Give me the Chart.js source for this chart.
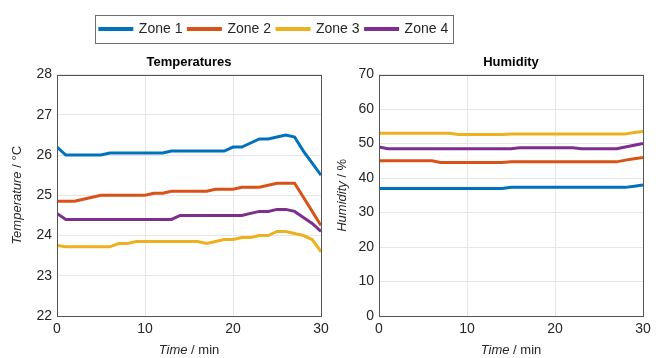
<!DOCTYPE html>
<html>
<head>
<meta charset="utf-8">
<script src="https://cdn.jsdelivr.net/npm/chart.js@4.4.0/dist/chart.umd.min.js"></script>
<style>
  body { margin: 0; background: #fff; }
  #wrap { position: relative; width: 659px; height: 358px; }
  #tempBox { position: absolute; left: 0; top: 0; width: 548px; height: 358px; }
  #humBox { position: absolute; left: 330px; top: 0; width: 329px; height: 358px; }
</style>
</head>
<body>
<div id="wrap">
  <div id="tempBox"><canvas id="temp"></canvas></div>
  <div id="humBox"><canvas id="hum"></canvas></div>
</div>
<script>
const time = [0, 1, 2, 3, 4, 5, 6, 7, 8, 9, 10, 11, 12, 13, 14, 15, 16, 17, 18, 19, 20, 21, 22, 23, 24, 25, 26, 27, 28, 29, 30];
const zones = ["Zone 1", "Zone 2", "Zone 3", "Zone 4"];
const colors = ["#0072BD", "#D95319", "#EDB120", "#7E2F8E"];

const temp_zone1 = [26.2, 26.0, 26.0, 26.0, 26.0, 26.0, 26.05, 26.05, 26.05, 26.05, 26.05, 26.05, 26.05, 26.1, 26.1, 26.1, 26.1, 26.1, 26.1, 26.1, 26.2, 26.2, 26.3, 26.4, 26.4, 26.45, 26.5, 26.45, 26.1, 25.8, 25.5];
const temp_zone2 = [24.85, 24.85, 24.85, 24.9, 24.95, 25.0, 25.0, 25.0, 25.0, 25.0, 25.0, 25.05, 25.05, 25.1, 25.1, 25.1, 25.1, 25.1, 25.15, 25.15, 25.15, 25.2, 25.2, 25.2, 25.25, 25.3, 25.3, 25.3, 24.95, 24.6, 24.25];
const temp_zone3 = [23.75, 23.72, 23.72, 23.72, 23.72, 23.72, 23.72, 23.8, 23.8, 23.85, 23.85, 23.85, 23.85, 23.85, 23.85, 23.85, 23.85, 23.8, 23.85, 23.9, 23.9, 23.95, 23.95, 24.0, 24.0, 24.1, 24.1, 24.05, 24.0, 23.9, 23.6];
const temp_zone4 = [24.55, 24.4, 24.4, 24.4, 24.4, 24.4, 24.4, 24.4, 24.4, 24.4, 24.4, 24.4, 24.4, 24.4, 24.5, 24.5, 24.5, 24.5, 24.5, 24.5, 24.5, 24.5, 24.55, 24.6, 24.6, 24.65, 24.65, 24.6, 24.45, 24.3, 24.1];

const hum_zone1 = [37, 37, 37, 37, 37, 37, 37, 37, 37, 37, 37, 37, 37, 37, 37, 37.3, 37.3, 37.3, 37.3, 37.3, 37.3, 37.3, 37.3, 37.3, 37.3, 37.3, 37.3, 37.3, 37.3, 37.6, 38];
const hum_zone2 = [45, 45, 45, 45, 45, 45, 45, 44.5, 44.5, 44.5, 44.5, 44.5, 44.5, 44.5, 44.5, 44.7, 44.7, 44.7, 44.7, 44.7, 44.7, 44.7, 44.7, 44.7, 44.7, 44.7, 44.7, 44.7, 45.2, 45.6, 46];
const hum_zone3 = [53, 53, 53, 53, 53, 53, 53, 53, 53, 52.6, 52.6, 52.6, 52.6, 52.6, 52.6, 52.8, 52.8, 52.8, 52.8, 52.8, 52.8, 52.8, 52.8, 52.8, 52.8, 52.8, 52.8, 52.8, 52.8, 53.2, 53.5];
const hum_zone4 = [49, 48.5, 48.5, 48.5, 48.5, 48.5, 48.5, 48.5, 48.5, 48.5, 48.5, 48.5, 48.5, 48.5, 48.5, 48.5, 48.8, 48.8, 48.8, 48.8, 48.8, 48.8, 48.8, 48.5, 48.5, 48.5, 48.5, 48.5, 49, 49.5, 50];

const FONT = "'Liberation Sans', Arial, sans-serif";
const TEXT = "#262626";

function makeDatasets(series) {
  return series.map((vals, i) => ({
    label: zones[i],
    data: time.map((t, k) => ({ x: t, y: vals[k] })),
    borderColor: colors[i],
    backgroundColor: colors[i],
    borderWidth: 3,
    pointRadius: 0,
    tension: 0,
  }));
}

// axes box + mixed italic/regular axis titles (MATLAB style)
const frame = {
  id: "frame",
  afterDraw(chart, args, opts) {
    const ctx = chart.ctx;
    const a = chart.chartArea;
    ctx.save();
    ctx.strokeStyle = "#555";
    ctx.lineWidth = 1;
    ctx.strokeRect(Math.round(a.left) + 0.5, Math.round(a.top) + 0.5, Math.round(a.width), Math.round(a.height));

    ctx.fillStyle = TEXT;
    ctx.textBaseline = "middle";
    const drawMixed = (parts, x, y, rot) => {
      ctx.save();
      ctx.translate(x, y);
      if (rot) ctx.rotate(-Math.PI / 2);
      ctx.font = "italic 13px " + FONT;
      const w1 = ctx.measureText(parts[0]).width;
      ctx.font = "13px " + FONT;
      const w2 = ctx.measureText(parts[1]).width;
      let start = -(w1 + w2) / 2;
      ctx.textAlign = "left";
      ctx.font = "italic 13px " + FONT;
      ctx.fillText(parts[0], start, 0);
      ctx.font = "13px " + FONT;
      ctx.fillText(parts[1], start + w1, 0);
      ctx.restore();
    };
    drawMixed(opts.xTitle, (a.left + a.right) / 2, 350, false);
    drawMixed(opts.yTitle, opts.yTitleX, (a.top + a.bottom) / 2, true);

    // border around the legend
    if (chart.legend && chart.legend.options.display && chart.legend.legendHitBoxes.length) {
      const hb = chart.legend.legendHitBoxes;
      const l = Math.min(...hb.map(b => b.left)) - 5;
      const r = Math.max(...hb.map(b => b.left + b.width)) + 5;
      const t = hb[0].top - 7;
      const h = hb[0].height + 14;
      ctx.strokeStyle = "#6e6e6e";
      ctx.lineWidth = 1;
      ctx.strokeRect(Math.round(l) + 0.5, Math.round(t) + 0.5, Math.round(r - l), Math.round(h));
    }
    ctx.restore();
  }
};

function scaleX() {
  return {
    type: "linear",
    min: 0,
    max: 30,
    ticks: { stepSize: 10, color: TEXT, font: { family: FONT, size: 14 }, padding: 5 },
    grid: { color: "#e6e6e6", drawTicks: false },
    border: { display: false },
    afterFit: (s) => { s.height = 42; },
  };
}

function titleOpts(text) {
  return {
    display: true,
    text: text,
    fullSize: false,
    weight: 500,
    color: "#000",
    font: { family: FONT, size: 13, weight: "bold" },
    padding: { top: 9, bottom: 4 },
  };
}

new Chart(document.getElementById("temp"), {
  type: "line",
  data: { datasets: makeDatasets([temp_zone1, temp_zone2, temp_zone3, temp_zone4]) },
  options: {
    responsive: true,
    maintainAspectRatio: false,
    animation: false,
    layout: { padding: { top: 16, left: 0, right: 0, bottom: 0 } },
    plugins: {
      legend: {
        display: true,
        position: "top",
        labels: {
          boxWidth: 32,
          boxHeight: 1,
          padding: 6,
          color: TEXT,
          font: { family: FONT, size: 14 },
        },
      },
      title: titleOpts("Temperatures"),
      tooltip: { enabled: false },
      frame: { xTitle: ["Time", " / min"], yTitle: ["Temperature", " / °C"], yTitleX: 17 },
    },
    scales: {
      x: scaleX(),
      y: {
        min: 22,
        max: 28,
        ticks: { stepSize: 1, color: TEXT, font: { family: FONT, size: 14 }, padding: 5 },
        grid: { color: "#e6e6e6", drawTicks: false },
        border: { display: false },
        afterFit: (s) => { s.width = 57; },
      },
      yR: {
        position: "right",
        display: true,
        ticks: { display: false },
        grid: { display: false, drawTicks: false },
        border: { display: false },
        afterFit: (s) => { s.width = 227; },
      },
    },
  },
  plugins: [frame],
});

new Chart(document.getElementById("hum"), {
  type: "line",
  data: { datasets: makeDatasets([hum_zone1, hum_zone2, hum_zone3, hum_zone4]) },
  options: {
    responsive: true,
    maintainAspectRatio: false,
    animation: false,
    layout: { padding: { top: 46, left: 0, right: 16, bottom: 0 } },
    plugins: {
      legend: { display: false },
      title: titleOpts("Humidity"),
      tooltip: { enabled: false },
      frame: { xTitle: ["Time", " / min"], yTitle: ["Humidity", " / %"], yTitleX: 12 },
    },
    scales: {
      x: scaleX(),
      y: {
        min: 0,
        max: 70,
        ticks: { stepSize: 10, color: TEXT, font: { family: FONT, size: 14 }, padding: 5 },
        grid: { color: "#e6e6e6", drawTicks: false },
        border: { display: false },
        afterFit: (s) => { s.width = 49; },
      },
    },
  },
  plugins: [frame],
});
</script>
</body>
</html>
